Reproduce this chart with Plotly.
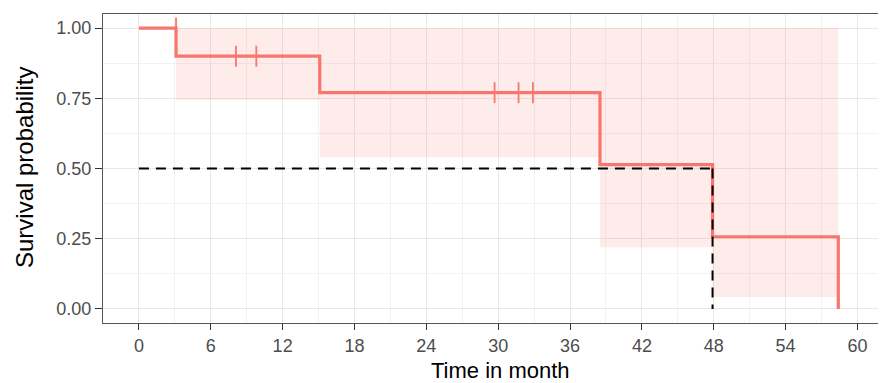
import plotly.graph_objects as go

# Kaplan-Meier estimate
step_times = [0, 3.1, 15.1, 38.5, 47.9, 58.4]
surv = [1.0, 0.90, 0.77, 0.514, 0.257, 0.0]
ci_lower = [1.0, 0.745, 0.54, 0.22, 0.043, 0.043]
ci_upper = [1.0, 1.0, 1.0, 1.0, 1.0, 1.0]
censor_times = [3.1, 8.1, 9.8, 29.7, 31.7, 32.9]
censor_surv = [1.0, 0.90, 0.90, 0.77, 0.77, 0.77]
median_h_x = [0, 47.9]
median_h_y = [0.5, 0.5]
median_v_x = [47.9, 47.9]
median_v_y = [0.5, 0.0]
x_ticks = [0, 6, 12, 18, 24, 30, 36, 42, 48, 54, 60]
y_ticks = [0, 0.25, 0.5, 0.75, 1.0]
y_tick_labels = ["0.00", "0.25", "0.50", "0.75", "1.00"]

RED = "#F8766D"
OFF = 8  # page body margin offset
W, H = 886 - OFF, 383 - OFF
ML, MR, MT, MB = 103 - OFF, 1, 14 - OFF, 60

fig = go.Figure()
fig.add_trace(go.Scatter(x=step_times, y=ci_lower, mode="lines", line=dict(width=0, shape="hv"),
                         showlegend=False, hoverinfo="skip"))
fig.add_trace(go.Scatter(x=step_times, y=ci_upper, mode="lines", line=dict(width=0, shape="hv"),
                         fill="tonexty", fillcolor="rgba(248,118,109,0.14)", showlegend=False, hoverinfo="skip"))
fig.add_trace(go.Scatter(x=step_times, y=surv, mode="lines", line=dict(color=RED, width=3.2, shape="hv"),
                         showlegend=False))
fig.add_trace(go.Scatter(x=censor_times, y=censor_surv, mode="markers",
                         marker=dict(symbol="line-ns", size=15, line=dict(color=RED, width=1.8)),
                         showlegend=False))
fig.add_trace(go.Scatter(x=median_h_x, y=median_h_y, mode="lines",
                         line=dict(color="black", width=2, dash="10px,7px"), showlegend=False))
fig.add_trace(go.Scatter(x=median_v_x, y=median_v_y, mode="lines",
                         line=dict(color="black", width=2, dash="10px,7px"), showlegend=False))

pw = W - ML - MR
ph = H - MT - MB
fig.update_layout(
    width=W, height=H,
    margin=dict(l=ML, r=MR, t=MT, b=MB),
    plot_bgcolor="white", paper_bgcolor="white",
    font=dict(family="Liberation Sans, Arial, sans-serif", color="#4D4D4D"),
    annotations=[
        dict(text="Time in month", xref="paper", yref="paper",
             x=(500 - OFF - ML) / pw, y=-(370 - OFF - (MT + ph)) / ph, xanchor="center", yanchor="middle",
             showarrow=False, font=dict(size=22, color="black")),
        dict(text="Survival probability", xref="paper", yref="paper",
             x=-(ML - (24 - OFF)) / pw, y=(MT + ph - (168 - OFF)) / ph, xanchor="center", yanchor="middle",
             textangle=-90, showarrow=False, font=dict(size=24, color="black")),
    ],
)
fig.update_xaxes(
    range=[-3.0, 62.3], tickvals=x_ticks, ticks="outside", ticklen=6, tickcolor="#333333",
    tickfont=dict(size=18, color="#4D4D4D"), automargin=False,
    showgrid=True, gridcolor="#E8E8E8", gridwidth=1, zeroline=False,
    minor=dict(dtick=3, showgrid=True, gridcolor="#F2F2F2", gridwidth=0.8),
    showline=True, mirror=True, linecolor="#555555", linewidth=1.2,
)
fig.update_yaxes(
    range=[-0.05, 1.05], tickvals=y_ticks, ticktext=y_tick_labels, ticks="outside", ticklen=7,
    tickcolor="#333333", tickfont=dict(size=18, color="#4D4D4D"), automargin=False,
    showgrid=True, gridcolor="#E8E8E8", gridwidth=1, zeroline=False,
    minor=dict(dtick=0.125, tick0=0.125, showgrid=True, gridcolor="#F2F2F2", gridwidth=0.8),
    showline=True, mirror=True, linecolor="#555555", linewidth=1.2,
)
fig.write_html("out.html")
